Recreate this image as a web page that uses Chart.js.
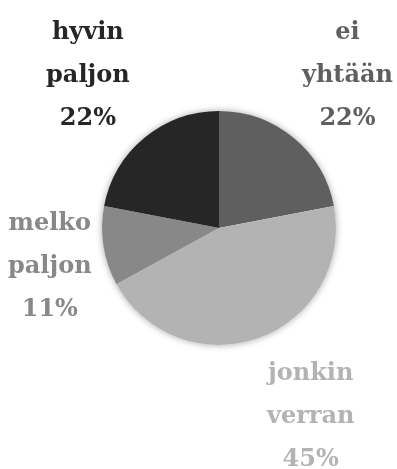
<!DOCTYPE html>
<html>
<head>
<meta charset="utf-8">
<script src="https://cdn.jsdelivr.net/npm/chart.js@4"></script>
<style>
  html, body { margin: 0; padding: 0; background: #fff; }
  #wrap { width: 397px; height: 469px; }
</style>
</head>
<body>
<div id="wrap"><canvas id="pie"></canvas></div>
<script>
var labels = [['ei', 'yhtään'], ['jonkin', 'verran'], ['melko', 'paljon'], ['hyvin', 'paljon']];
var values = [22, 45, 11, 22];
var colors = ['#5f5f5f', '#b3b3b3', '#888888', '#262626'];

var labelFont = 'bold 24px "DejaVu Serif"';
var lineGap = 43;

// soft shadow behind the whole pie
var pieShadow = {
    id: 'pieShadow',
    beforeDatasetsDraw: function (chart) {
        var arc = chart.getDatasetMeta(0).data[0];
        if (!arc) return;
        var p = arc.getProps(['x', 'y', 'outerRadius'], true);
        var ctx = chart.ctx;
        ctx.save();
        ctx.shadowColor = 'rgba(0,0,0,0.35)';
        ctx.shadowBlur = 7;
        ctx.fillStyle = '#ffffff';
        ctx.beginPath();
        ctx.arc(p.x, p.y, p.outerRadius, 0, Math.PI * 2);
        ctx.fill();
        ctx.restore();
    }
};

// name + percent outside each slice, in the slice colour;
// pushed out sideways/vertically so the block clears the pie
var outsideLabels = {
    id: 'outsideLabels',
    afterDatasetsDraw: function (chart) {
        var ctx = chart.ctx;
        var total = values.reduce(function (a, b) { return a + b; }, 0);
        ctx.save();
        ctx.font = labelFont;
        ctx.textAlign = 'center';
        ctx.textBaseline = 'alphabetic';
        chart.getDatasetMeta(0).data.forEach(function (arc, i) {
            var p = arc.getProps(['x', 'y', 'startAngle', 'endAngle', 'outerRadius'], true);
            var mid = (p.startAngle + p.endAngle) / 2;
            var vx = Math.cos(mid), vy = Math.sin(mid);
            var lines = labels[i].concat([Math.round(values[i] / total * 100) + '%']);
            var w = 0;
            lines.forEach(function (t) { w = Math.max(w, ctx.measureText(t).width); });
            var cx = p.x + vx * (p.outerRadius + 15) + (vx < 0 ? -1 : 1) * 47;
            var cy = p.y + vy * (p.outerRadius + 74) + (vy < 0 ? -1 : 1) * 7;
            cx = Math.max(w / 2 + 8, Math.min(chart.width - w / 2 - 4, cx));
            ctx.fillStyle = colors[i];
            lines.forEach(function (t, k) {
                ctx.fillText(t, cx, cy + 8 + (k - 1) * lineGap);
            });
        });
        ctx.restore();
    }
};

new Chart(document.getElementById('pie'), {
    type: 'pie',
    data: {
        labels: labels,
        datasets: [{
            data: values,
            backgroundColor: colors,
            borderWidth: 0
        }]
    },
    options: {
        responsive: true,
        maintainAspectRatio: false,
        animation: false,
        layout: {
            padding: { left: 102, right: 61, top: 111, bottom: 124 }
        },
        plugins: {
            legend: { display: false },
            tooltip: { enabled: false }
        }
    },
    plugins: [pieShadow, outsideLabels]
});
</script>
</body>
</html>
